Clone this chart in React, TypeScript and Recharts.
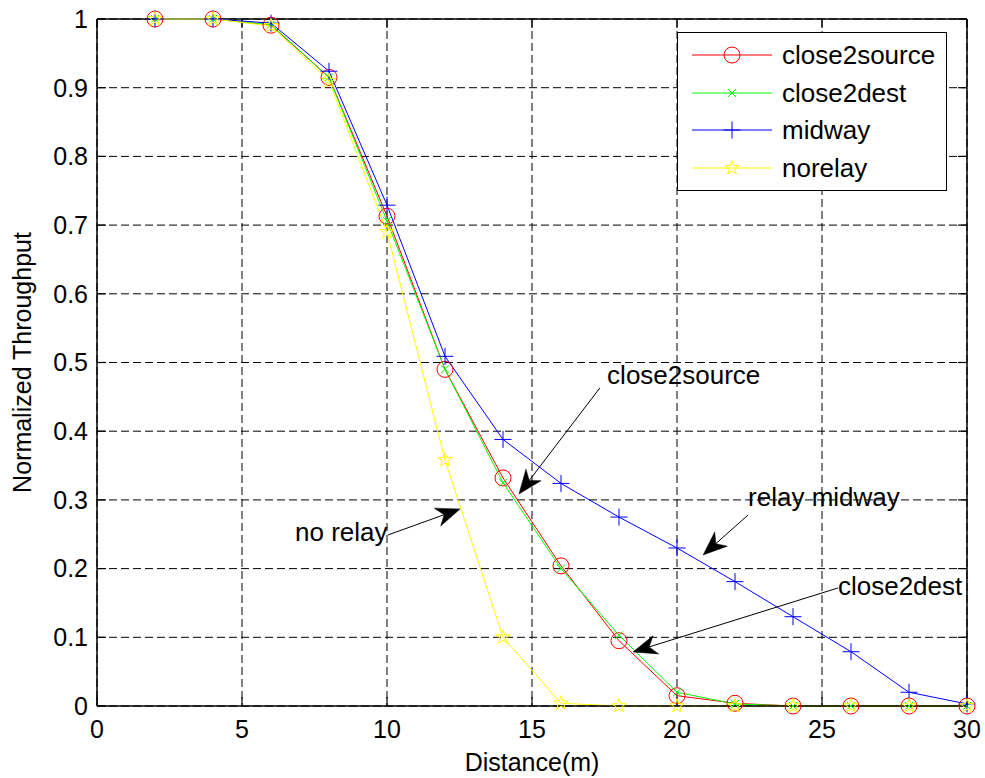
import React from 'react';
import { LineChart, Line, XAxis, YAxis, CartesianGrid, Legend, ReferenceLine, ReferenceDot, Label } from 'recharts';

const distance = [2, 4, 6, 8, 10, 12, 14, 16, 18, 20, 22, 24, 26, 28, 30];
const close2source = [1, 1, 0.991, 0.915, 0.713, 0.49, 0.332, 0.204, 0.095, 0.015, 0.004, 0, 0, 0, 0];
const close2dest = [1, 1, 0.992, 0.915, 0.706, 0.49, 0.325, 0.2, 0.103, 0.02, 0.003, 0, 0, 0, 0];
const midway = [1, 1, 0.994, 0.924, 0.729, 0.509, 0.388, 0.324, 0.275, 0.23, 0.181, 0.13, 0.079, 0.02, 0.003];
const norelay = [1, 1, 0.99, 0.91, 0.69, 0.358, 0.1, 0.004, 0, 0, 0, 0, 0, 0, 0];

const xTicks = [0, 5, 10, 15, 20, 25, 30];
const yTicks = [0, 0.1, 0.2, 0.3, 0.4, 0.5, 0.6, 0.7, 0.8, 0.9, 1];

const seriesNames = ['close2source', 'close2dest', 'midway', 'norelay'];
const seriesKeys = ['cs', 'cd', 'mw', 'nr'];
const seriesColors = ['#ff0000', '#00ff00', '#0000ff', '#ffff00'];

const annotationTexts = ['close2source', 'relay midway', 'close2dest', 'no relay'];
const annotationTextX = [17.59, 22.45, 25.55, 6.83];
const annotationTextY = [0.469, 0.291, 0.162, 0.24];
const arrowFrom = [[17.34, 0.463], [22.45, 0.278], [25.55, 0.1718], [10.03, 0.2489]];
const arrowTo = [[14.55, 0.3086], [20.9, 0.2198], [18.48, 0.0786], [12.52, 0.2868]];

const data = distance.map((d, i) => ({
  d,
  cs: close2source[i],
  cd: close2dest[i],
  mw: midway[i],
  nr: norelay[i],
}));

const FONT = '"Liberation Sans", Arial, Helvetica, sans-serif';
const TICK_LEN = 9;

function CircleMark({ cx, cy }: any) {
  return <circle cx={cx} cy={cy} r={8} fill="none" stroke="#ff0000" strokeWidth={1} />;
}
function CrossMark({ cx, cy }: any) {
  const h = 4;
  return (
    <g stroke="#00ff00" strokeWidth={1}>
      <line x1={cx - h} y1={cy - h} x2={cx + h} y2={cy + h} />
      <line x1={cx - h} y1={cy + h} x2={cx + h} y2={cy - h} />
    </g>
  );
}
function PlusMark({ cx, cy }: any) {
  const h = 8.5;
  return (
    <g stroke="#0000ff" strokeWidth={1}>
      <line x1={cx - h} y1={cy} x2={cx + h} y2={cy} />
      <line x1={cx} y1={cy - h} x2={cx} y2={cy + h} />
    </g>
  );
}
function StarMark({ cx, cy }: any) {
  const R = 7.5;
  const r = R * 0.382;
  const pts: string[] = [];
  for (let k = 0; k < 10; k++) {
    const a = -Math.PI / 2 + (k * Math.PI) / 5;
    const rr = k % 2 === 0 ? R : r;
    pts.push(`${cx + rr * Math.cos(a)},${cy + rr * Math.sin(a)}`);
  }
  return <polygon points={pts.join(' ')} fill="none" stroke="#ffff00" strokeWidth={1} />;
}
const markers = [CircleMark, CrossMark, PlusMark, StarMark];

function makeDot(M: any) {
  return (p: any) => {
    if (p.cx == null || p.cy == null) return <g key={`e${p.index}`} />;
    return <M key={`m${p.index}`} cx={p.cx} cy={p.cy} />;
  };
}

function ArrowShape(p: any) {
  const { x1, y1, x2, y2 } = p;
  if (x1 == null) return <g />;
  const dx = x2 - x1;
  const dy = y2 - y1;
  const len = Math.sqrt(dx * dx + dy * dy) || 1;
  const ux = dx / len;
  const uy = dy / len;
  const px = -uy;
  const py = ux;
  const L = 24;
  const W = 9.5;
  const N = 17;
  const bx = x2 - ux * L;
  const by = y2 - uy * L;
  const pts = [
    `${x2},${y2}`,
    `${bx + px * W},${by + py * W}`,
    `${x2 - ux * N},${y2 - uy * N}`,
    `${bx - px * W},${by - py * W}`,
  ].join(' ');
  return (
    <g>
      <line x1={x1} y1={y1} x2={x2 - ux * N} y2={y2 - uy * N} stroke="#000" strokeWidth={1} />
      <polygon points={pts} fill="#000" stroke="#000" strokeWidth={0.5} />
    </g>
  );
}

// vertical reference line: draw only short inward ticks at both ends
function VTickShape(p: any) {
  const { x1, y1, y2 } = p;
  if (x1 == null) return <g />;
  const top = Math.min(y1, y2);
  const bot = Math.max(y1, y2);
  return (
    <g stroke="#000" strokeWidth={1.2}>
      <line x1={x1} y1={top} x2={x1} y2={top + TICK_LEN} />
      <line x1={x1} y1={bot} x2={x1} y2={bot - TICK_LEN} />
    </g>
  );
}
// horizontal reference line: short inward ticks at both ends
function HTickShape(p: any) {
  const { x1, x2, y1 } = p;
  if (y1 == null) return <g />;
  const l = Math.min(x1, x2);
  const r = Math.max(x1, x2);
  return (
    <g stroke="#000" strokeWidth={1.2}>
      <line x1={l} y1={y1} x2={l + TICK_LEN} y2={y1} />
      <line x1={r} y1={y1} x2={r - TICK_LEN} y2={y1} />
    </g>
  );
}

function makeTextShape(txt: string) {
  return (p: any) => (
    <text x={p.cx} y={p.cy} fontSize={26} fill="#000" fontFamily={FONT} textAnchor="start">
      {txt}
    </text>
  );
}

function LegendBox() {
  const rowY = [23, 61, 98, 136];
  return (
    <svg width={271} height={160} style={{ display: 'block', overflow: 'visible' }}>
      <rect x={0.5} y={0.5} width={269} height={158} fill="#fff" stroke="#000" strokeWidth={1} />
      {seriesNames.map((n, i) => {
        const M = markers[i];
        return (
          <g key={n}>
            <line x1={15} y1={rowY[i]} x2={95} y2={rowY[i]} stroke={seriesColors[i]} strokeWidth={1} />
            <M cx={55} cy={rowY[i]} />
            <text x={105} y={rowY[i] + 9} fontSize={26} fill="#000" fontFamily={FONT}>
              {n}
            </text>
          </g>
        );
      })}
    </svg>
  );
}

export default function App() {
  return (
    <div style={{ position: 'absolute', left: 0, top: 0, width: 985, height: 778, background: '#fff', fontFamily: FONT }}>
      <LineChart width={985} height={778} data={data} margin={{ top: 19, right: 18, bottom: 0, left: 0 }}>
        <CartesianGrid stroke="#000" strokeDasharray="8 4" strokeWidth={1} />
        <XAxis
          dataKey="d"
          type="number"
          domain={[0, 30]}
          ticks={xTicks}
          height={72}
          tickLine={false}
          axisLine={{ stroke: '#000', strokeWidth: 1.5 }}
          tickSize={0}
          tickMargin={14}
          tick={{ fill: '#000', fontSize: 25 }}
          interval={0}
        >
          <Label value="Distance(m)" position="insideBottom" offset={7} fill="#000" fontSize={25} />
        </XAxis>
        <YAxis
          type="number"
          domain={[0, 1]}
          ticks={yTicks}
          width={97}
          tickLine={false}
          axisLine={{ stroke: '#000', strokeWidth: 1.5 }}
          tickSize={0}
          tickMargin={9}
          tick={{ fill: '#000', fontSize: 25 }}
          interval={0}
        >
          <Label
            value="Normalized Throughput"
            angle={-90}
            position="insideLeft"
            offset={22}
            fill="#000"
            fontSize={25}
            style={{ textAnchor: 'middle' }}
          />
        </YAxis>
        <ReferenceLine x={30} stroke="#000" strokeWidth={1.5} />
        <ReferenceLine y={1} stroke="#000" strokeWidth={1.5} />
        {xTicks.map((v) => (
          <ReferenceLine key={`vx${v}`} x={v} shape={VTickShape} />
        ))}
        {yTicks.map((v) => (
          <ReferenceLine key={`hy${v}`} y={v} shape={HTickShape} />
        ))}
        {seriesKeys.map((k, i) => (
          <Line
            key={k}
            dataKey={k}
            name={seriesNames[i]}
            type="linear"
            stroke={seriesColors[i]}
            strokeWidth={1}
            dot={makeDot(markers[i])}
            activeDot={false}
            isAnimationActive={false}
          />
        ))}
        {annotationTexts.map((t, i) => (
          <ReferenceLine
            key={`a${i}`}
            segment={[
              { x: arrowFrom[i][0], y: arrowFrom[i][1] },
              { x: arrowTo[i][0], y: arrowTo[i][1] },
            ]}
            shape={ArrowShape}
            ifOverflow="visible"
          />
        ))}
        {annotationTexts.map((t, i) => (
          <ReferenceDot
            key={`t${i}`}
            x={annotationTextX[i]}
            y={annotationTextY[i]}
            r={0}
            shape={makeTextShape(t)}
            ifOverflow="visible"
          />
        ))}
        <Legend
          layout="horizontal"
          verticalAlign="middle"
          align="center"
          content={() => <LegendBox />}
          wrapperStyle={{ position: 'absolute', left: 677, top: 32, width: 271, height: 160, margin: 0, padding: 0 }}
        />
      </LineChart>
    </div>
  );
}
